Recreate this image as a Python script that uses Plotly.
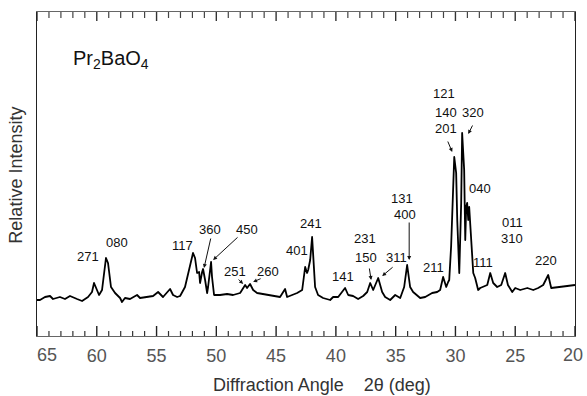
import plotly.graph_objects as go

# ---- data: diffraction pattern (2theta in deg, relative intensity in arbitrary units)
two_theta = [65.00, 64.75, 64.33, 63.91, 63.66, 63.08, 62.66, 62.24, 61.65, 61.23,
             60.73, 60.40, 60.23, 59.98, 59.81, 59.56, 59.23, 59.06, 58.81, 58.47,
             58.05, 57.89, 57.64, 57.22, 56.63, 56.38, 55.79, 55.29, 54.87, 54.46,
             53.87, 53.62, 53.28, 53.03, 52.62, 52.36, 51.95, 51.78, 51.61, 51.44,
             51.36, 51.19, 51.11, 50.94, 50.77, 50.69, 50.44, 50.36, 50.19, 49.69,
             49.10, 48.60, 48.01, 47.59, 47.43, 47.18, 46.92, 46.59, 45.75, 44.67,
             44.25, 44.08, 43.24, 42.82, 42.57, 42.41, 42.32, 42.15, 41.99, 41.90,
             41.74, 41.49, 41.07, 40.48, 40.23, 39.81, 39.23, 38.97, 38.56, 38.14,
             37.72, 37.38, 37.13, 36.88, 36.46, 36.13, 35.88, 35.46, 35.04, 34.62,
             34.29, 34.04, 33.79, 33.54, 32.95, 32.53, 31.95, 31.53, 31.28, 31.03,
             30.77, 30.61, 30.52, 30.36, 30.19, 30.10, 29.94, 29.85, 29.68, 29.52,
             29.44, 29.27, 29.18, 29.10, 29.02, 28.93, 28.85, 28.68, 28.51, 28.35,
             28.10, 27.93, 27.68, 27.34, 27.09, 26.84, 26.51, 26.17, 25.84, 25.61,
             25.25, 25.00, 24.58, 23.99, 23.49, 23.08, 22.66, 22.24, 21.99, 21.49,
             20.65, 20.00]
intensity = [36, 36, 39, 40, 37, 39, 37, 40, 37, 35,
             39, 44, 53, 46, 41, 46, 78, 73, 49, 43,
             38, 34, 38, 37, 41, 38, 39, 40, 44, 39,
             47, 41, 39, 40, 49, 63, 83, 78, 63, 64,
             53, 64, 67, 56, 43, 49, 74, 59, 41, 41,
             42, 41, 43, 51, 48, 52, 46, 43, 41, 39,
             47, 39, 43, 46, 69, 63, 66, 76, 99, 76,
             49, 41, 38, 36, 39, 39, 48, 41, 40, 37,
             40, 44, 53, 46, 58, 44, 39, 36, 41, 38,
             49, 71, 49, 44, 38, 39, 43, 44, 46, 59,
             49, 54, 56, 90, 149, 179, 163, 116, 63, 133,
             203, 166, 96, 129, 133, 116, 129, 93, 63, 58,
             46, 48, 49, 51, 63, 53, 49, 51, 63, 51,
             44, 48, 46, 48, 46, 48, 51, 61, 48, 49,
             50, 51]

tick_values = [65, 60, 55, 50, 45, 40, 35, 30, 25, 20]
tick_labels = ["65", "60", "55", "50", "45", "40", "35", "30", "25", "20"]
minor_tick_values = [v for v in range(64, 20, -1) if v % 5 != 0]

# ---- peak labels (Miller indices) and their placement
labels = [("271", 60.73, 80), ("080", 58.31, 94), ("117", 52.87, 91),
          ("360", 50.52, 107), ("450", 47.43, 107), ("251", 48.43, 65),
          ("260", 45.67, 65), ("401", 43.24, 86), ("241", 42.07, 113),
          ("141", 39.39, 60), ("231", 37.55, 98), ("150", 37.47, 79),
          ("311", 34.96, 79), ("131", 34.46, 138), ("400", 34.21, 122),
          ("211", 31.86, 69), ("121", 30.94, 243), ("140", 30.77, 224),
          ("201", 30.77, 208), ("320", 28.51, 224), ("040", 27.93, 148),
          ("111", 27.68, 74), ("011", 25.25, 114), ("310", 25.25, 98),
          ("220", 22.41, 76)]

# arrows: (tail_x, tail_y, tip_x, tip_y)
arrows = [(50.44, 99, 51.03, 68), (48.10, 100, 50.27, 76),
          (48.26, 58, 47.76, 52), (46.17, 58, 46.92, 54),
          (37.22, 69, 37.05, 56), (35.13, 70, 36.13, 60),
          (33.87, 115, 33.87, 76), (30.69, 196, 30.27, 184),
          (28.51, 212, 28.93, 202)]

FONT = "Liberation Sans, Arial, sans-serif"
TICKFONT = dict(family=FONT, size=18, color="#555")

fig = go.Figure()
fig.add_trace(go.Scatter(x=two_theta, y=intensity, mode="lines",
                         line=dict(color="black", width=1.8),
                         hoverinfo="skip", showlegend=False))

ann = []
for t, x, y in labels:
    ann.append(dict(x=x, y=y, xref="x", yref="y", text=t, showarrow=False,
                    font=dict(family=FONT, size=13, color="#111"),
                    xanchor="center", yanchor="middle"))
for tx, ty, hx, hy in arrows:
    ann.append(dict(x=hx, y=hy, ax=tx, ay=ty, xref="x", yref="y",
                    axref="x", ayref="y", text="", showarrow=True,
                    arrowhead=2, arrowsize=0.8, arrowwidth=1, arrowcolor="#111"))
ann.append(dict(x=0.0, y=0, xref="paper", yref="paper", text=tick_labels[0],
                showarrow=False, font=TICKFONT, xanchor="left", yanchor="top",
                xshift=-2, yshift=-7))
ann.append(dict(x=1.0, y=0, xref="paper", yref="paper", text=tick_labels[-1],
                showarrow=False, font=TICKFONT, xanchor="right", yanchor="top",
                xshift=10, yshift=-7))
ann.append(dict(x=0.063, y=0.852, xref="paper", yref="paper",
                text="Pr<sub>2</sub>BaO<sub>4</sub>", showarrow=False,
                font=dict(family=FONT, size=20, color="#111"),
                xanchor="left", yanchor="middle"))
ann.append(dict(x=-0.039, y=0.495, xref="paper", yref="paper",
                text="Relative Intensity", textangle=-90, showarrow=False,
                font=dict(family=FONT, size=18, color="#333"),
                xanchor="center", yanchor="middle"))
ann.append(dict(x=0.53, y=-0.152, xref="paper", yref="paper",
                text="Diffraction Angle\u00a0\u00a0\u00a0 2\u03b8 (deg)", showarrow=False,
                font=dict(family=FONT, size=18, color="#333"),
                xanchor="center", yanchor="middle"))

# tick marks drawn on the x scale (bottom pointing up, top pointing down)
shapes = []
def tick(v, edge, length, color, width):
    sign = 1 if edge == 0 else -1
    return dict(type="line", xref="x", yref="paper", x0=v, x1=v,
                ysizemode="pixel", yanchor=edge, y0=0, y1=sign * length,
                line=dict(color=color, width=width), layer="above")
for v in tick_values:
    shapes.append(tick(v, 0, 10, "#222", 1.4))
    shapes.append(tick(v, 1, 9, "#333", 1.4))
for v in minor_tick_values:
    shapes.append(tick(v, 0, 5, "#333", 1.2))
    shapes.append(tick(v, 1, 6, "#444", 1.2))

mid_text = [""] + tick_labels[1:-1] + [""]

fig.update_layout(
    width=587, height=396,
    margin=dict(l=37, r=12, t=12, b=60),
    paper_bgcolor="white", plot_bgcolor="white",
    annotations=ann, shapes=shapes,
    xaxis=dict(range=[65, 20], tickmode="array", tickvals=tick_values, ticktext=mid_text,
               ticks="", showline=True, linecolor="#666", linewidth=1, mirror=True,
               showgrid=False, zeroline=False, ticklabelstandoff=3,
               tickfont=TICKFONT),
    yaxis=dict(range=[0, 324], showticklabels=False, ticks="",
               showline=True, linecolor="#222", linewidth=1.3, mirror=True,
               showgrid=False, zeroline=False),
)

js = ("document.body.style.margin='0';"
      "document.querySelectorAll('.scatterlayer path.js-line').forEach(function(p){"
      "p.style.strokeLinejoin='round';});")
fig.write_html("out.html", post_script=js, config={"displayModeBar": False})
